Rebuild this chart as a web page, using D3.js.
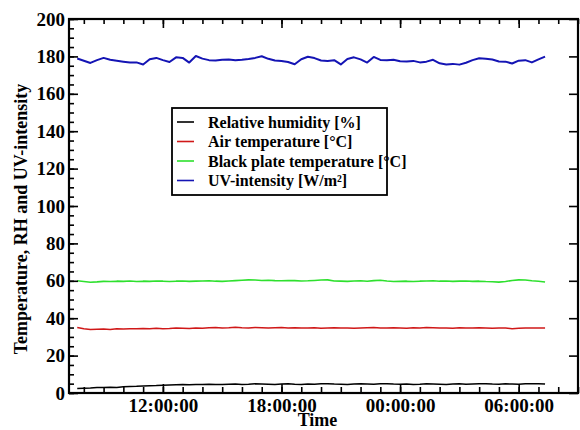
<!DOCTYPE html>
<html>
<head>
<meta charset="utf-8">
<script src="https://cdn.jsdelivr.net/npm/d3@7"></script>
<style>
  body { margin: 0; background: #fff; }
  text { font-family: "Liberation Serif", "Times New Roman", serif; font-weight: bold; fill: #000; }
</style>
</head>
<body>
<svg id="chart" width="580" height="430"></svg>
<script>
// measurement start and sampling step
const startTime = new Date(2000, 0, 1, 7, 40);
const stepMinutes = 20;

const humidity = [
  2.4, 2.6, 2.7, 2.9, 3.0, 3.1, 3.0, 3.3, 3.5, 3.6, 3.8, 3.9,
  4.0, 4.2, 4.3, 4.4, 4.5, 4.4, 4.6, 4.5, 4.7, 4.6, 4.5, 4.7,
  4.8, 4.6, 4.7, 4.9, 4.8, 4.7, 4.6, 4.8, 4.9, 4.7, 4.6, 4.8,
  4.7, 4.9, 5.0, 4.8, 4.7, 4.6, 4.8, 4.9, 4.8, 4.7, 4.9, 5.0,
  4.8, 4.7, 4.8, 4.6, 4.7, 4.9, 4.8, 4.7, 4.6, 4.8, 4.9, 4.7,
  4.8, 4.9, 5.0, 4.8, 4.7, 4.9, 4.8, 4.7, 4.9, 5.0, 4.9, 4.8
];
const airTemp = [
  35.0, 34.3, 34.0, 34.1, 34.2, 34.0, 34.3, 34.2, 34.4, 34.3, 34.5, 34.4,
  34.6, 34.4, 34.5, 34.7, 34.6, 34.5, 34.8, 34.6, 34.9, 35.0, 34.8, 34.9,
  35.1, 34.9, 34.8, 35.0, 34.9, 34.7, 34.9, 35.0, 34.8, 34.9, 34.7, 34.8,
  34.9, 34.6, 34.8, 34.9, 34.7, 34.8, 34.6, 34.8, 34.9, 35.0, 34.8, 34.7,
  34.9, 34.8, 34.6, 34.9, 34.8, 35.0, 34.9, 34.7, 34.8, 34.6, 34.9, 34.8,
  34.7, 34.9, 34.8, 34.6, 34.8, 34.7, 34.4, 34.6, 34.8, 34.7, 34.8, 34.8
];
const plateTemp = [
  60.0, 59.6, 59.2, 59.4, 59.7, 59.6, 59.8, 59.7, 59.9, 59.6, 59.8, 59.7,
  59.9, 59.8, 59.6, 59.8, 59.9, 59.7, 59.8, 59.9, 60.0, 59.8, 59.7, 59.9,
  60.1, 60.3, 60.5, 60.4, 60.2, 60.3, 60.1, 60.0, 60.2, 60.1, 59.9, 60.0,
  60.2, 60.4, 60.5, 59.9, 59.8, 59.7, 59.9, 60.0, 59.8, 60.1, 60.3, 59.9,
  59.6, 59.7, 59.8, 59.6, 59.8, 59.9, 60.0, 59.8, 59.9, 59.7, 59.8, 59.9,
  59.7, 59.8, 59.6, 59.5, 59.3, 59.6, 60.2, 60.5, 60.4, 60.0, 59.8, 59.4
];
const uvIntensity = [
  178.9, 177.7, 176.5, 178.0, 179.2, 178.2, 177.7, 177.2, 176.7, 176.8, 175.7, 178.5,
  179.2, 178.0, 177.0, 179.5, 179.2, 176.7, 180.2, 178.8, 178.0, 177.8, 178.2, 178.3,
  177.9, 178.2, 178.6, 179.2, 180.1, 178.7, 177.8, 177.5, 177.0, 175.8, 178.5, 179.8,
  179.1, 177.8, 177.6, 178.0, 175.7, 178.6, 179.5, 178.4, 176.7, 179.7, 178.1, 177.9,
  178.2, 177.4, 177.3, 177.6, 176.8, 177.2, 178.2, 176.3, 175.7, 176.0, 175.6, 176.6,
  178.0, 179.0, 178.8, 178.3, 177.3, 177.2, 176.2, 177.7, 178.0, 176.8, 178.4, 179.9
];

const seriesNames = ["Relative humidity [%]", "Air temperature [°C]", "Black plate temperature [°C]", "UV-intensity [W/m²]"];
const seriesColors = ["#000000", "#d01818", "#2ee02e", "#1414b4"];
const seriesWidths = [1.5, 1.5, 1.6, 2];
const seriesValues = [humidity, airTemp, plateTemp, uvIntensity];

const xDomain = [new Date(2000, 0, 1, 7, 15), new Date(2000, 0, 2, 9, 0)];
const yDomain = [0, 200];

const margin = { left: 69, right: 2, top: 19, bottom: 37 };
const width = 580, height = 430;

const svg = d3.select("#chart");

const x = d3.scaleTime().domain(xDomain).range([margin.left, width - margin.right]);
const y = d3.scaleLinear().domain(yDomain).range([height - margin.bottom, margin.top]);

const times = humidity.map((_, i) => new Date(startTime.getTime() + i * stepMinutes * 60000));

// data lines
const line = d3.line()
  .x((d, i) => x(times[i]))
  .y(d => y(d));

svg.selectAll("path.series")
  .data(seriesValues)
  .enter()
  .append("path")
  .attr("class", "series")
  .attr("fill", "none")
  .attr("stroke", (d, i) => seriesColors[i])
  .attr("stroke-width", (d, i) => seriesWidths[i])
  .attr("stroke-linejoin", "round")
  .attr("d", line);

// axes, ticks pointing inward
const y0 = height - margin.bottom, x0 = margin.left, x1 = width - margin.right;

svg.append("g")
  .attr("transform", `translate(0,${y0})`)
  .call(d3.axisBottom(x).ticks(d3.timeHour.every(1)).tickSize(-6).tickSizeOuter(0).tickFormat(""));
svg.append("g")
  .attr("class", "xmajor")
  .attr("transform", `translate(0,${y0})`)
  .call(d3.axisBottom(x).ticks(d3.timeHour.every(6)).tickSize(-9).tickSizeOuter(0)
    .tickPadding(6).tickFormat(d3.timeFormat("%H:%M:%S")));
svg.append("g")
  .attr("transform", `translate(0,${margin.top})`)
  .call(d3.axisTop(x).ticks(d3.timeHour.every(1)).tickSize(-5).tickSizeOuter(0).tickFormat(""));
svg.append("g")
  .attr("transform", `translate(0,${margin.top})`)
  .call(d3.axisTop(x).ticks(d3.timeHour.every(6)).tickSize(-9).tickSizeOuter(0).tickFormat(""));

svg.append("g")
  .attr("transform", `translate(${x0},0)`)
  .call(d3.axisLeft(y).tickValues(d3.range(0, 201, 5)).tickSize(-5).tickSizeOuter(0).tickFormat(""));
svg.append("g")
  .attr("class", "ymajor")
  .attr("transform", `translate(${x0},0)`)
  .call(d3.axisLeft(y).tickValues(d3.range(0, 201, 20)).tickSize(-9).tickSizeOuter(0).tickPadding(4));
svg.append("g")
  .attr("transform", `translate(${x1},0)`)
  .call(d3.axisRight(y).tickValues(d3.range(0, 201, 20)).tickSize(-9).tickSizeOuter(0).tickFormat(""));

svg.selectAll(".domain").remove();
svg.selectAll(".tick line").attr("stroke", "#000").attr("stroke-width", 1.6);
svg.selectAll(".xmajor text, .ymajor text")
  .style("font-size", "19px")
  .style("font-family", "'Liberation Serif', serif")
  .style("font-weight", "bold")
  .attr("fill", "#000");

// frame
svg.append("rect")
  .attr("x", x0).attr("y", margin.top)
  .attr("width", x1 - x0).attr("height", y0 - margin.top)
  .attr("fill", "none").attr("stroke", "#000").attr("stroke-width", 2.2);

// axis titles
svg.append("text")
  .attr("x", (x0 + x1) / 2 - 6).attr("y", 426)
  .attr("text-anchor", "middle")
  .style("font-size", "18px")
  .text("Time");

svg.append("text")
  .attr("transform", "rotate(-90)")
  .attr("x", -219).attr("y", 27)
  .attr("text-anchor", "middle")
  .style("font-size", "18px")
  .text("Temperature, RH and UV-intensity");

// legend
const legend = svg.append("g").attr("transform", "translate(172,108)");
legend.append("rect")
  .attr("width", 215).attr("height", 87)
  .attr("fill", "#fff").attr("stroke", "#000").attr("stroke-width", 1.8);
const item = legend.selectAll("g.item")
  .data(seriesNames)
  .enter()
  .append("g")
  .attr("class", "item")
  .attr("transform", (d, i) => `translate(0,${14 + i * 19.5})`);
item.append("line")
  .attr("x1", 5).attr("x2", 22)
  .attr("stroke", (d, i) => seriesColors[i])
  .attr("stroke-width", 1.6);
item.append("text")
  .attr("x", 36).attr("dy", "0.35em")
  .style("font-size", "16px")
  .text(d => d);
</script>
</body>
</html>
